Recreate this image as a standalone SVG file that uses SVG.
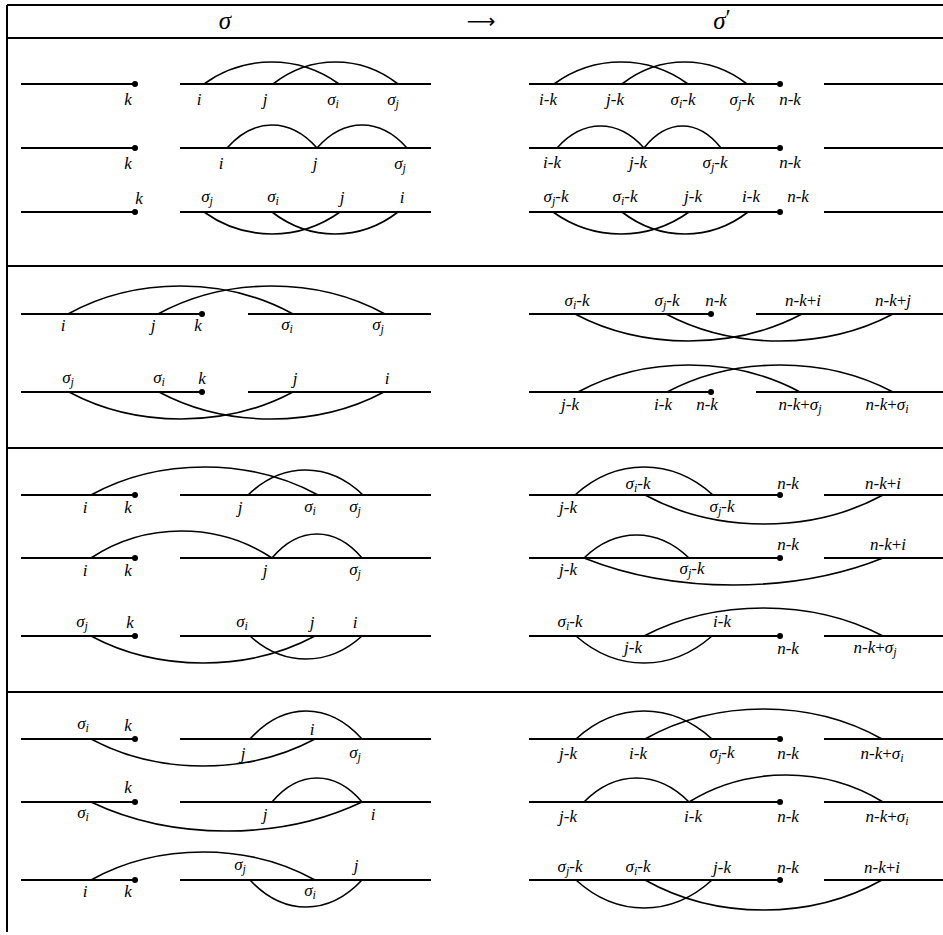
<svg xmlns="http://www.w3.org/2000/svg" width="943" height="935" viewBox="0 0 943 935">
<style>
.frame{stroke:#000;stroke-width:2;fill:none}
.ln{stroke:#000;stroke-width:2;fill:none}
.arc{stroke:#000;stroke-width:1.6;fill:none}
.dot{fill:#000}
.t{font-family:"Liberation Serif","DejaVu Serif",serif;font-style:italic;font-size:17px;text-anchor:middle;fill:#000}
.h{font-family:"Liberation Serif","DejaVu Serif",serif;font-style:italic;font-size:25px;text-anchor:middle;fill:#000}
.s{font-size:12px}
.u{font-style:normal}
</style>
<rect width="943" height="935" fill="#fff"/>
<g id="frame">
<line class="frame" x1="7" y1="5" x2="943" y2="5"/>
<line class="frame" x1="7" y1="5" x2="7" y2="932"/>
<line class="frame" x1="7" y1="38" x2="943" y2="38"/>
<line class="frame" x1="7" y1="266" x2="943" y2="266"/>
<line class="frame" x1="7" y1="448" x2="943" y2="448"/>
<line class="frame" x1="7" y1="692" x2="943" y2="692"/>
</g>
<g id="header">
<text class="h" x="225" y="29">σ</text>
<text x="481" y="28" style="font-family:'DejaVu Sans',sans-serif;font-size:20px;text-anchor:middle">⟶</text>
<text class="h" x="722" y="29">σ<tspan class="u" font-size="24" dy="-4">′</tspan></text>
</g>

<!-- Section 1 left -->
<g id="s1-l-r1">
<line class="ln" x1="21" y1="84" x2="135" y2="84"/><circle class="dot" cx="135" cy="84" r="3"/>
<line class="ln" x1="180" y1="84" x2="431" y2="84"/>
<path class="arc" d="M204,84 C244.5,54.7 298.5,54.7 339,84"/>
<path class="arc" d="M273,84 C310.5,54.7 360.5,54.7 398,84"/>
<text class="t" x="128" y="105">k</text><text class="t" x="199" y="105">i</text><text class="t" x="265" y="105">j</text>
<text class="t" x="333" y="105">σ<tspan class="s" dy="3">i</tspan></text><text class="t" x="393" y="105">σ<tspan class="s" dy="3">j</tspan></text>
</g>
<g id="s1-l-r2">
<line class="ln" x1="21" y1="148" x2="135" y2="148"/><circle class="dot" cx="135" cy="148" r="3"/>
<line class="ln" x1="180" y1="148" x2="431" y2="148"/>
<path class="arc" d="M227,148 C254,117.3 290,117.3 317,148"/>
<path class="arc" d="M317,148 C344,117.3 380,117.3 407,148"/>
<text class="t" x="128" y="169">k</text><text class="t" x="221" y="169">i</text><text class="t" x="315" y="169">j</text>
<text class="t" x="400" y="169">σ<tspan class="s" dy="3">j</tspan></text>
</g>
<g id="s1-l-r3">
<line class="ln" x1="21" y1="212" x2="135" y2="212"/><circle class="dot" cx="135" cy="212" r="3"/>
<line class="ln" x1="180" y1="212" x2="431" y2="212"/>
<path class="arc" d="M204,212 C244.8,241.3 299.2,241.3 340,212"/>
<path class="arc" d="M272,212 C309.8,241.3 360.2,241.3 398,212"/>
<text class="t" x="139" y="204">k</text>
<text class="t" x="207" y="202">σ<tspan class="s" dy="3">j</tspan></text><text class="t" x="273" y="202">σ<tspan class="s" dy="3">i</tspan></text>
<text class="t" x="342" y="203">j</text><text class="t" x="402" y="203">i</text>
</g>

<!-- Section 1 right -->
<g id="s1-r-r1">
<line class="ln" x1="529" y1="84" x2="780" y2="84"/><circle class="dot" cx="780" cy="84" r="3"/>
<line class="ln" x1="824" y1="84" x2="943" y2="84"/>
<path class="arc" d="M554,84 C594.2,54.7 647.8,54.7 688,84"/>
<path class="arc" d="M622,84 C659.5,54.7 709.5,54.7 747,84"/>
<text class="t" x="548" y="105">i<tspan class="u">-</tspan>k</text>
<text class="t" x="615" y="105">j<tspan class="u">-</tspan>k</text>
<text class="t" x="683" y="105">σ<tspan class="s" dy="3">i</tspan><tspan class="u" dy="-3">-</tspan>k</text>
<text class="t" x="742" y="105">σ<tspan class="s" dy="3">j</tspan><tspan class="u" dy="-3">-</tspan>k</text>
<text class="t" x="790" y="105">n<tspan class="u">-</tspan>k</text>
</g>
<g id="s1-r-r2">
<line class="ln" x1="529" y1="148" x2="780" y2="148"/><circle class="dot" cx="780" cy="148" r="3"/>
<line class="ln" x1="824" y1="148" x2="943" y2="148"/>
<path class="arc" d="M557,148 C583.1,118.7 617.9,118.7 644,148"/>
<path class="arc" d="M644,148 C667.1,118.7 697.9,118.7 721,148"/>
<text class="t" x="552" y="168">i<tspan class="u">-</tspan>k</text>
<text class="t" x="638" y="168">j<tspan class="u">-</tspan>k</text>
<text class="t" x="715" y="168">σ<tspan class="s" dy="3">j</tspan><tspan class="u" dy="-3">-</tspan>k</text>
<text class="t" x="790" y="168">n<tspan class="u">-</tspan>k</text>
</g>
<g id="s1-r-r3">
<line class="ln" x1="529" y1="212" x2="780" y2="212"/><circle class="dot" cx="780" cy="212" r="3"/>
<line class="ln" x1="824" y1="212" x2="943" y2="212"/>
<path class="arc" d="M553,212 C593.8,241.3 648.2,241.3 689,212"/>
<path class="arc" d="M622,212 C659.8,241.3 710.2,241.3 748,212"/>
<text class="t" x="556" y="202">σ<tspan class="s" dy="3">j</tspan><tspan class="u" dy="-3">-</tspan>k</text>
<text class="t" x="625" y="202">σ<tspan class="s" dy="3">i</tspan><tspan class="u" dy="-3">-</tspan>k</text>
<text class="t" x="693" y="202">j<tspan class="u">-</tspan>k</text>
<text class="t" x="751" y="202">i<tspan class="u">-</tspan>k</text>
<text class="t" x="798" y="202">n<tspan class="u">-</tspan>k</text>
</g>

<!-- Section 2 left -->
<g id="s2-l-r1">
<line class="ln" x1="21" y1="314" x2="202" y2="314"/><circle class="dot" cx="202" cy="314" r="3"/>
<line class="ln" x1="248" y1="314" x2="431" y2="314"/>
<path class="arc" d="M68,314 C135.5,276.7 225.5,276.7 293,314"/>
<path class="arc" d="M158,314 C226.1,276.7 316.9,276.7 385,314"/>
<text class="t" x="63" y="331">i</text><text class="t" x="153" y="331">j</text><text class="t" x="198" y="331">k</text>
<text class="t" x="287" y="330">σ<tspan class="s" dy="3">i</tspan></text><text class="t" x="378" y="330">σ<tspan class="s" dy="3">j</tspan></text>
</g>
<g id="s2-l-r2">
<line class="ln" x1="21" y1="392" x2="202" y2="392"/><circle class="dot" cx="202" cy="392" r="3"/>
<line class="ln" x1="248" y1="392" x2="431" y2="392"/>
<path class="arc" d="M69,392 C136.2,428 225.8,428 293,392"/>
<path class="arc" d="M159,392 C226.5,428 316.5,428 384,392"/>
<text class="t" x="68" y="383">σ<tspan class="s" dy="3">j</tspan></text><text class="t" x="159" y="383">σ<tspan class="s" dy="3">i</tspan></text>
<text class="t" x="202" y="384">k</text><text class="t" x="295" y="384">j</text><text class="t" x="387" y="384">i</text>
</g>

<!-- Section 2 right -->
<g id="s2-r-r1">
<line class="ln" x1="529" y1="314" x2="711" y2="314"/><circle class="dot" cx="711" cy="314" r="3"/>
<line class="ln" x1="756" y1="314" x2="943" y2="314"/>
<path class="arc" d="M575,314 C643.1,350 733.9,350 802,314"/>
<path class="arc" d="M666,314 C734.1,350 824.9,350 893,314"/>
<text class="t" x="577" y="306">σ<tspan class="s" dy="3">i</tspan><tspan class="u" dy="-3">-</tspan>k</text>
<text class="t" x="667" y="306">σ<tspan class="s" dy="3">j</tspan><tspan class="u" dy="-3">-</tspan>k</text>
<text class="t" x="716" y="306">n<tspan class="u">-</tspan>k</text>
<text class="t" x="803" y="306">n<tspan class="u">-</tspan>k<tspan class="u">+</tspan>i</text>
<text class="t" x="893" y="306">n<tspan class="u">-</tspan>k<tspan class="u">+</tspan>j</text>
</g>
<g id="s2-r-r2">
<line class="ln" x1="529" y1="392" x2="711" y2="392"/><circle class="dot" cx="711" cy="392" r="3"/>
<line class="ln" x1="756" y1="392" x2="943" y2="392"/>
<path class="arc" d="M578,392 C644.6,356 733.4,356 800,392"/>
<path class="arc" d="M667,392 C734.8,356 825.2,356 893,392"/>
<text class="t" x="570" y="410">j<tspan class="u">-</tspan>k</text>
<text class="t" x="663" y="410">i<tspan class="u">-</tspan>k</text>
<text class="t" x="707" y="410">n<tspan class="u">-</tspan>k</text>
<text class="t" x="800" y="410">n<tspan class="u">-</tspan>k<tspan class="u">+</tspan>σ<tspan class="s" dy="3">j</tspan></text>
<text class="t" x="887" y="410">n<tspan class="u">-</tspan>k<tspan class="u">+</tspan>σ<tspan class="s" dy="3">i</tspan></text>
</g>

<!-- Section 3 left -->
<g id="s3-l-r1">
<line class="ln" x1="21" y1="495" x2="135" y2="495"/><circle class="dot" cx="135" cy="495" r="3"/>
<line class="ln" x1="180" y1="495" x2="431" y2="495"/>
<path class="arc" d="M91,495 C159.1,457.7 249.9,457.7 318,495"/>
<path class="arc" d="M248,495 C282.5,461.7 328.5,461.7 363,495"/>
<text class="t" x="85" y="513">i</text><text class="t" x="128" y="513">k</text><text class="t" x="240" y="513">j</text>
<text class="t" x="310" y="512">σ<tspan class="s" dy="3">i</tspan></text><text class="t" x="355" y="512">σ<tspan class="s" dy="3">j</tspan></text>
</g>
<g id="s3-l-r2">
<line class="ln" x1="21" y1="558" x2="135" y2="558"/><circle class="dot" cx="135" cy="558" r="3"/>
<line class="ln" x1="180" y1="558" x2="431" y2="558"/>
<path class="arc" d="M91,558 C145.3,522 217.7,522 272,558"/>
<path class="arc" d="M272,558 C299,526 335,526 362,558"/>
<text class="t" x="85" y="576">i</text><text class="t" x="128" y="576">k</text><text class="t" x="265" y="576">j</text>
<text class="t" x="355" y="575">σ<tspan class="s" dy="3">j</tspan></text>
</g>
<g id="s3-l-r3">
<line class="ln" x1="21" y1="636" x2="135" y2="636"/><circle class="dot" cx="135" cy="636" r="3"/>
<line class="ln" x1="180" y1="636" x2="431" y2="636"/>
<path class="arc" d="M91,636 C158.2,672 247.8,672 315,636"/>
<path class="arc" d="M250,636 C283.6,666.7 328.4,666.7 362,636"/>
<text class="t" x="82" y="627">σ<tspan class="s" dy="3">j</tspan></text><text class="t" x="130" y="628">k</text>
<text class="t" x="242" y="627">σ<tspan class="s" dy="3">i</tspan></text><text class="t" x="312" y="628">j</text><text class="t" x="355" y="628">i</text>
</g>

<!-- Section 3 right -->
<g id="s3-r-r1">
<line class="ln" x1="529" y1="495" x2="780" y2="495"/><circle class="dot" cx="780" cy="495" r="3"/>
<line class="ln" x1="824" y1="495" x2="943" y2="495"/>
<path class="arc" d="M575,495 C616.4,457.7 671.6,457.7 713,495"/>
<path class="arc" d="M645,495 C716.4,533.7 811.6,533.7 883,495"/>
<text class="t" x="568" y="513">j<tspan class="u">-</tspan>k</text>
<text class="t" x="638" y="489">σ<tspan class="s" dy="3">i</tspan><tspan class="u" dy="-3">-</tspan>k</text>
<text class="t" x="722" y="512">σ<tspan class="s" dy="3">j</tspan><tspan class="u" dy="-3">-</tspan>k</text>
<text class="t" x="788" y="489">n<tspan class="u">-</tspan>k</text>
<text class="t" x="883" y="489">n<tspan class="u">-</tspan>k<tspan class="u">+</tspan>i</text>
</g>
<g id="s3-r-r2">
<line class="ln" x1="529" y1="558" x2="780" y2="558"/><circle class="dot" cx="780" cy="558" r="3"/>
<line class="ln" x1="824" y1="558" x2="943" y2="558"/>
<path class="arc" d="M584,558 C615.5,527.3 657.5,527.3 689,558"/>
<path class="arc" d="M584,558 C673.7,594 793.3,594 883,558"/>
<text class="t" x="568" y="575">j<tspan class="u">-</tspan>k</text>
<text class="t" x="692" y="574">σ<tspan class="s" dy="3">j</tspan><tspan class="u" dy="-3">-</tspan>k</text>
<text class="t" x="788" y="550">n<tspan class="u">-</tspan>k</text>
<text class="t" x="888" y="550">n<tspan class="u">-</tspan>k<tspan class="u">+</tspan>i</text>
</g>
<g id="s3-r-r3">
<line class="ln" x1="529" y1="636" x2="780" y2="636"/><circle class="dot" cx="780" cy="636" r="3"/>
<line class="ln" x1="824" y1="636" x2="943" y2="636"/>
<path class="arc" d="M576,636 C616.8,672 671.2,672 712,636"/>
<path class="arc" d="M644,636 C715.7,598.7 811.3,598.7 883,636"/>
<text class="t" x="570" y="627">σ<tspan class="s" dy="3">i</tspan><tspan class="u" dy="-3">-</tspan>k</text>
<text class="t" x="633" y="653">j<tspan class="u">-</tspan>k</text>
<text class="t" x="722" y="627">i<tspan class="u">-</tspan>k</text>
<text class="t" x="788" y="654">n<tspan class="u">-</tspan>k</text>
<text class="t" x="875" y="653">n<tspan class="u">-</tspan>k<tspan class="u">+</tspan>σ<tspan class="s" dy="3">j</tspan></text>
</g>

<!-- Section 4 left -->
<g id="s4-l-r1">
<line class="ln" x1="21" y1="739" x2="135" y2="739"/><circle class="dot" cx="135" cy="739" r="3"/>
<line class="ln" x1="180" y1="739" x2="431" y2="739"/>
<path class="arc" d="M91,739 C158.2,775 247.8,775 315,739"/>
<path class="arc" d="M250,739 C283.6,701.7 328.4,701.7 362,739"/>
<text class="t" x="83" y="729">σ<tspan class="s" dy="3">i</tspan></text><text class="t" x="128" y="731">k</text>
<text class="t" x="243" y="759">j</text><text class="t" x="312" y="735">i</text>
<text class="t" x="355" y="758">σ<tspan class="s" dy="3">j</tspan></text>
</g>
<g id="s4-l-r2">
<line class="ln" x1="21" y1="802" x2="135" y2="802"/><circle class="dot" cx="135" cy="802" r="3"/>
<line class="ln" x1="180" y1="802" x2="431" y2="802"/>
<path class="arc" d="M91,802 C172.3,840.7 280.7,840.7 362,802"/>
<path class="arc" d="M272,802 C299,770 335,770 362,802"/>
<text class="t" x="128" y="793">k</text>
<text class="t" x="83" y="818">σ<tspan class="s" dy="3">i</tspan></text>
<text class="t" x="265" y="820">j</text><text class="t" x="373" y="820">i</text>
</g>
<g id="s4-l-r3">
<line class="ln" x1="21" y1="880" x2="135" y2="880"/><circle class="dot" cx="135" cy="880" r="3"/>
<line class="ln" x1="180" y1="880" x2="431" y2="880"/>
<path class="arc" d="M91,880 C158.2,842.7 247.8,842.7 315,880"/>
<path class="arc" d="M250,880 C283.6,916 328.4,916 362,880"/>
<text class="t" x="85" y="897">i</text><text class="t" x="128" y="897">k</text>
<text class="t" x="240" y="870">σ<tspan class="s" dy="3">j</tspan></text>
<text class="t" x="310" y="896">σ<tspan class="s" dy="3">i</tspan></text>
<text class="t" x="356" y="871">j</text>
</g>

<!-- Section 4 right -->
<g id="s4-r-r1">
<line class="ln" x1="529" y1="739" x2="780" y2="739"/><circle class="dot" cx="780" cy="739" r="3"/>
<line class="ln" x1="824" y1="739" x2="943" y2="739"/>
<path class="arc" d="M576,739 C616.8,701.7 671.2,701.7 712,739"/>
<path class="arc" d="M645,739 C716.1,699 810.9,699 882,739"/>
<text class="t" x="568" y="759">j<tspan class="u">-</tspan>k</text>
<text class="t" x="638" y="759">i<tspan class="u">-</tspan>k</text>
<text class="t" x="722" y="758">σ<tspan class="s" dy="3">j</tspan><tspan class="u" dy="-3">-</tspan>k</text>
<text class="t" x="788" y="759">n<tspan class="u">-</tspan>k</text>
<text class="t" x="882" y="759">n<tspan class="u">-</tspan>k<tspan class="u">+</tspan>σ<tspan class="s" dy="3">i</tspan></text>
</g>
<g id="s4-r-r2">
<line class="ln" x1="529" y1="802" x2="780" y2="802"/><circle class="dot" cx="780" cy="802" r="3"/>
<line class="ln" x1="824" y1="802" x2="943" y2="802"/>
<path class="arc" d="M584,802 C615.5,770 657.5,770 689,802"/>
<path class="arc" d="M689,802 C747.2,766 824.8,766 883,802"/>
<text class="t" x="568" y="822">j<tspan class="u">-</tspan>k</text>
<text class="t" x="693" y="822">i<tspan class="u">-</tspan>k</text>
<text class="t" x="788" y="822">n<tspan class="u">-</tspan>k</text>
<text class="t" x="887" y="822">n<tspan class="u">-</tspan>k<tspan class="u">+</tspan>σ<tspan class="s" dy="3">i</tspan></text>
</g>
<g id="s4-r-r3">
<line class="ln" x1="529" y1="880" x2="780" y2="880"/><circle class="dot" cx="780" cy="880" r="3"/>
<line class="ln" x1="824" y1="880" x2="943" y2="880"/>
<path class="arc" d="M576,880 C616.8,917.3 671.2,917.3 712,880"/>
<path class="arc" d="M645,880 C716.1,920 810.9,920 882,880"/>
<text class="t" x="570" y="872">σ<tspan class="s" dy="3">j</tspan><tspan class="u" dy="-3">-</tspan>k</text>
<text class="t" x="638" y="872">σ<tspan class="s" dy="3">i</tspan><tspan class="u" dy="-3">-</tspan>k</text>
<text class="t" x="722" y="873">j<tspan class="u">-</tspan>k</text>
<text class="t" x="788" y="873">n<tspan class="u">-</tspan>k</text>
<text class="t" x="882" y="873">n<tspan class="u">-</tspan>k<tspan class="u">+</tspan>i</text>
</g>
</svg>
